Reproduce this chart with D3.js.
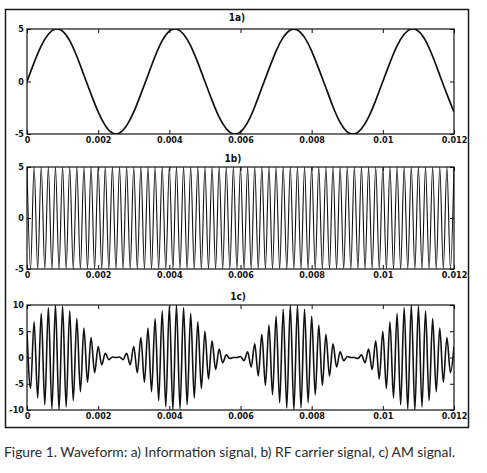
<!DOCTYPE html>
<html>
<head>
<meta charset="utf-8">
<script src="https://cdn.jsdelivr.net/npm/d3@7"></script>
<style>
  body { margin: 0; background: #fff; }
</style>
</head>
<body>
<script>
// x axis (seconds)
var timeTicks = [0, 0.002, 0.004, 0.006, 0.008, 0.01, 0.012];
var timeTickLabels = ["0", "0.002", "0.004", "0.006", "0.008", "0.01", "0.012"];

// 1a) information signal, one sample every 0.2 ms
var infoStep = 0.0002;
var infoValues = [
  0, 1.8, 3.4, 4.5, 5.0, 4.8, 3.9, 2.4, 0.6, -1.2,
  -2.9, -4.2, -4.9, -4.9, -4.2, -2.9, -1.2, 0.6, 2.4, 3.9,
  4.8, 5.0, 4.5, 3.4, 1.8, 0, -1.8, -3.4, -4.5, -5.0,
  -4.8, -3.9, -2.4, -0.6, 1.2, 2.9, 4.2, 4.9, 4.9, 4.2,
  2.9, 1.2, -0.6, -2.4, -3.9, -4.8, -5.0, -4.5, -3.4, -1.8,
  0, 1.8, 3.4, 4.5, 5.0, 4.8, 3.9, 2.4, 0.6, -1.2,
  -2.9
];

// 1b) carrier peaks / troughs, every 0.1 ms
var carrierStep = 0.0001;
var carrierValues = [
  5, -5, 5, -5, 5, -5, 5, -5, 5, -5, 5, -5, 5, -5, 5, -5, 5, -5, 5, -5,
  5, -5, 5, -5, 5, -5, 5, -5, 5, -5, 5, -5, 5, -5, 5, -5, 5, -5, 5, -5,
  5, -5, 5, -5, 5, -5, 5, -5, 5, -5, 5, -5, 5, -5, 5, -5, 5, -5, 5, -5,
  5, -5, 5, -5, 5, -5, 5, -5, 5, -5, 5, -5, 5, -5, 5, -5, 5, -5, 5, -5,
  5, -5, 5, -5, 5, -5, 5, -5, 5, -5, 5, -5, 5, -5, 5, -5, 5, -5, 5, -5,
  5, -5, 5, -5, 5, -5, 5, -5, 5, -5, 5, -5, 5, -5, 5, -5, 5, -5, 5, -5,
  5
];

// 1c) AM signal peaks / troughs, every 0.1 ms
var amStep = 0.0001;
var amValues = [
  5.0, -5.9, 6.8, -7.7, 8.4, -9.0, 9.5, -9.8, 10.0, -10.0,
  9.8, -9.4, 8.9, -8.2, 7.4, -6.5, 5.6, -4.7, 3.8, -2.9,
  2.1, -1.4, 0.8, -0.4, 0.1, 0, 0.1, -0.4, 0.8, -1.4,
  2.1, -2.9, 3.8, -4.7, 5.6, -6.5, 7.4, -8.2, 8.9, -9.4,
  9.8, -10.0, 10.0, -9.8, 9.5, -9.0, 8.4, -7.7, 6.8, -5.9,
  5.0, -4.1, 3.2, -2.3, 1.6, -1.0, 0.5, -0.2, 0, 0,
  0.2, -0.6, 1.1, -1.8, 2.6, -3.5, 4.4, -5.3, 6.2, -7.1,
  7.9, -8.6, 9.2, -9.6, 9.9, -10.0, 9.9, -9.6, 9.2, -8.6,
  7.9, -7.1, 6.2, -5.3, 4.4, -3.5, 2.6, -1.8, 1.1, -0.6,
  0.2, 0, 0, -0.2, 0.5, -1.0, 1.6, -2.3, 3.2, -4.1,
  5.0, -5.9, 6.8, -7.7, 8.4, -9.0, 9.5, -9.8, 10.0, -10.0,
  9.8, -9.4, 8.9, -8.2, 7.4, -6.5, 5.6, -4.7, 3.8, -2.9,
  2.1
];

var panelTitles = ["1a)", "1b)", "1c)"];
var panelYTicks = [[-5, 0, 5], [-5, 0, 5], [-10, -5, 0, 5, 10]];
var captionText = "Figure 1. Waveform: a) Information signal, b) RF carrier signal, c) AM signal.";

var screen = {width: 487, height: 473};
var plotLeft = 27, plotRight = 454;

var svg = d3.select("body")
            .append("svg")
            .attr("width", screen.width)
            .attr("height", screen.height)
            .style("background", "#fff");

// outer frame
svg.append("rect")
   .attr("x", 5.5)
   .attr("y", 9.5)
   .attr("width", 463)
   .attr("height", 418)
   .attr("fill", "none")
   .attr("stroke", "#1a1a1a")
   .attr("stroke-width", 1.5);

var x = d3.scaleLinear()
          .domain([0, 0.012])
          .range([plotLeft, plotRight]);

var panels = [
  {top: 29, bottom: 134, titleX: 237, titleY: 21, values: infoValues, step: infoStep, curve: d3.curveNatural, width: 1.7},
  {top: 167, bottom: 269, titleX: 233, titleY: 162, values: carrierValues, step: carrierStep, curve: d3.curveMonotoneX, width: 1.1},
  {top: 305, bottom: 410, titleX: 238, titleY: 300, values: amValues, step: amStep, curve: d3.curveMonotoneX, width: 1.6}
];

var tickFont = "'Liberation Sans Narrow', 'DejaVu Sans Condensed', sans-serif";

panels.forEach(function(p, i)
{
  var yTicks = panelYTicks[i];
  var y = d3.scaleLinear()
            .domain([d3.min(yTicks), d3.max(yTicks)])
            .range([p.bottom, p.top]);

  var g = svg.append("g").attr("class", "panel");

  g.append("clipPath")
   .attr("id", "clip" + i)
   .append("rect")
   .attr("x", plotLeft)
   .attr("y", p.top)
   .attr("width", plotRight - plotLeft)
   .attr("height", p.bottom - p.top);

  var line = d3.line()
               .x(function(d, k) {return x(k * p.step);})
               .y(function(d) {return y(d);})
               .curve(p.curve);

  g.append("path")
   .datum(p.values)
   .attr("d", line)
   .attr("clip-path", "url(#clip" + i + ")")
   .attr("fill", "none")
   .attr("stroke", "#111")
   .attr("stroke-width", p.width)
   .attr("stroke-linejoin", "round");

  // inward ticks on all four sides
  var bottomAxis = d3.axisBottom(x)
                     .tickValues(timeTicks)
                     .tickFormat(function(d, k) {return timeTickLabels[k];})
                     .tickSizeInner(-4)
                     .tickSizeOuter(0)
                     .tickPadding(3);
  var topAxis = d3.axisTop(x).tickValues(timeTicks).tickFormat("").tickSizeInner(-4).tickSizeOuter(0);
  var leftAxis = d3.axisLeft(y)
                   .tickValues(yTicks)
                   .tickFormat(function(d) {return String(d);}) // plain hyphen like the original
                   .tickSizeInner(-4)
                   .tickSizeOuter(0)
                   .tickPadding(3);
  var rightAxis = d3.axisRight(y).tickValues(yTicks).tickFormat("").tickSizeInner(-4).tickSizeOuter(0);

  g.append("g").attr("transform", "translate(0," + p.bottom + ")").call(bottomAxis);
  g.append("g").attr("transform", "translate(0," + p.top + ")").call(topAxis);
  g.append("g").attr("transform", "translate(" + plotLeft + ",0)").call(leftAxis);
  g.append("g").attr("transform", "translate(" + plotRight + ",0)").call(rightAxis);

  g.selectAll(".domain").remove();
  g.selectAll(".tick line").attr("stroke", "#111");
  g.selectAll(".tick text")
   .attr("font-family", tickFont)
   .attr("font-size", "9px")
   .attr("font-weight", "bold")
   .attr("fill", "#111");

  // plot box
  g.append("rect")
   .attr("x", plotLeft)
   .attr("y", p.top)
   .attr("width", plotRight - plotLeft)
   .attr("height", p.bottom - p.top)
   .attr("fill", "none")
   .attr("stroke", "#111")
   .attr("stroke-width", 1.2);

  g.append("text")
   .attr("x", p.titleX)
   .attr("y", p.titleY)
   .attr("text-anchor", "middle")
   .attr("font-family", tickFont)
   .attr("font-size", "10px")
   .attr("font-weight", "bold")
   .attr("fill", "#111")
   .text(panelTitles[i]);
});

svg.append("text")
   .attr("x", 4)
   .attr("y", 457)
   .attr("font-family", "Lato, 'Open Sans', sans-serif")
   .attr("font-size", "13px")
   .attr("fill", "#2b2b2b")
   .attr("textLength", 451)
   .attr("lengthAdjust", "spacingAndGlyphs")
   .text(captionText);
</script>
</body>
</html>
